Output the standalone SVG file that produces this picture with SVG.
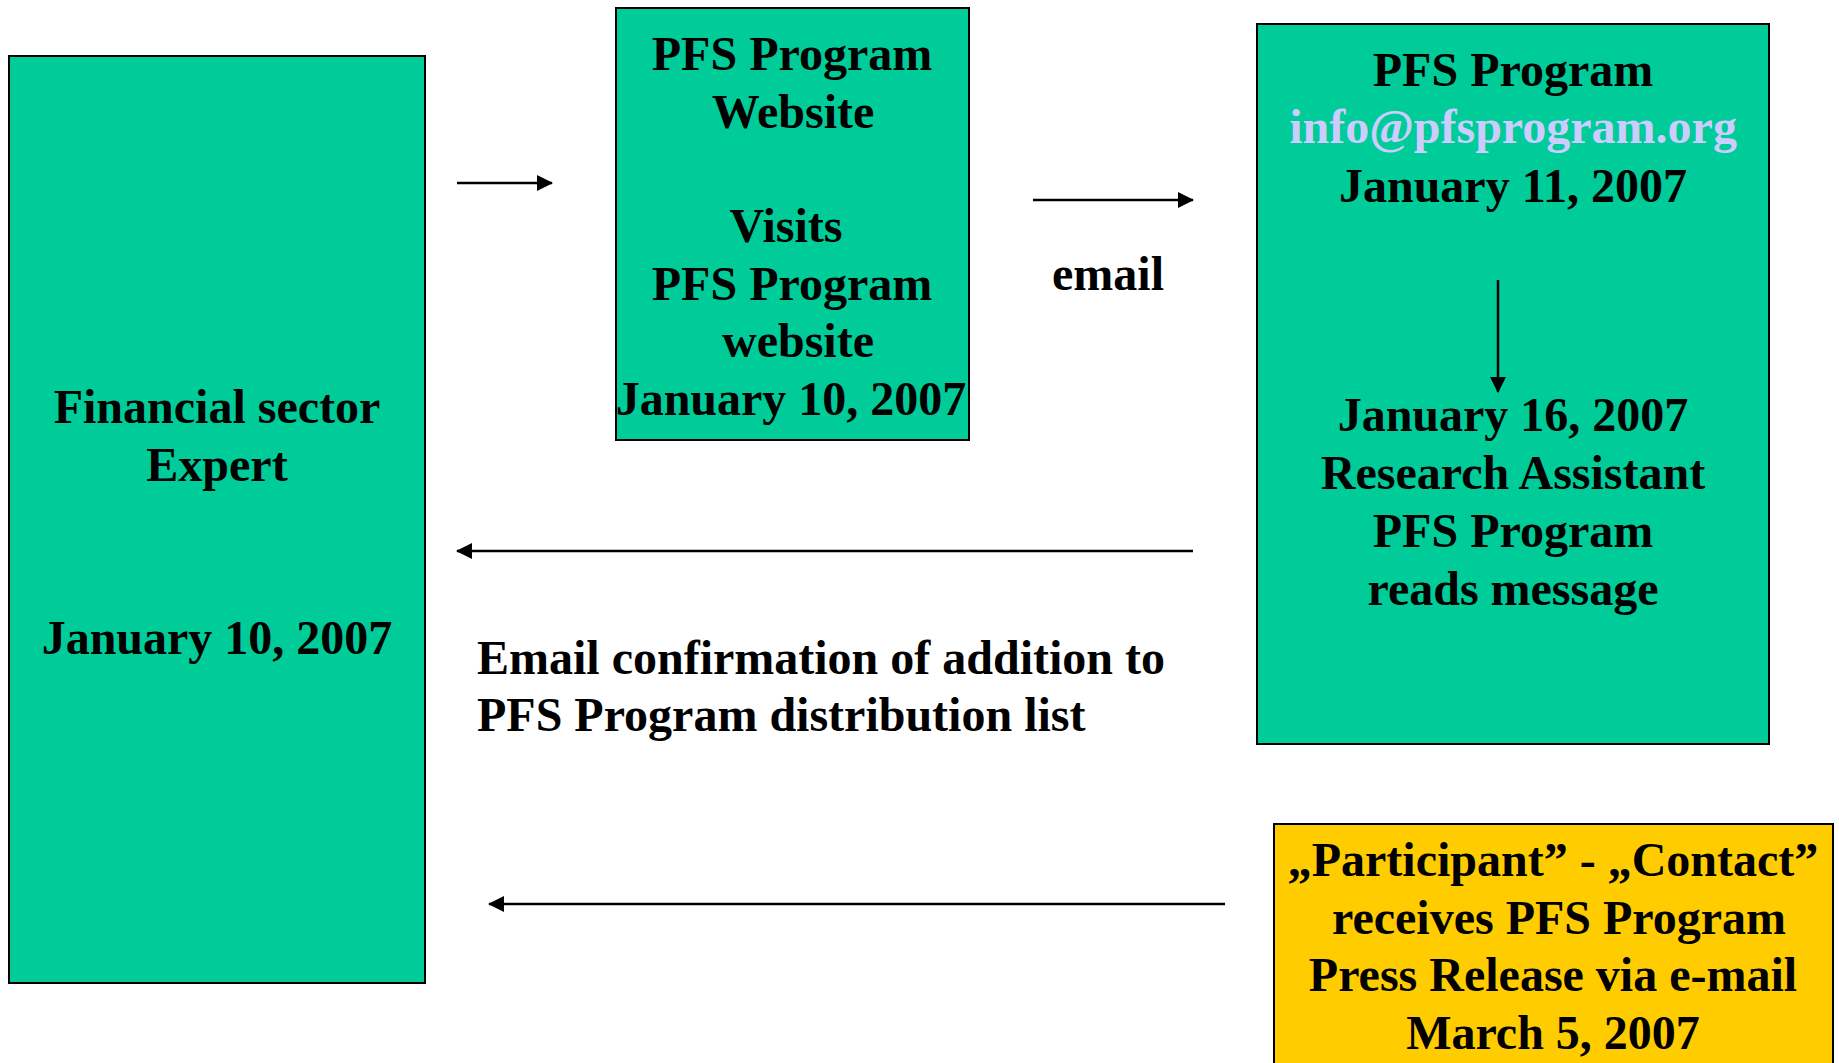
<svg xmlns="http://www.w3.org/2000/svg" width="1839" height="1063" viewBox="0 0 1839 1063">
  <style>
    .box { stroke: #000; stroke-width: 2; }
    .green { fill: #00CC99; }
    .yellow { fill: #FFCC00; }
    text { font-family: "Liberation Serif", "Times New Roman", serif; font-weight: bold; font-size: 48px; fill: #000; }
    .c { text-anchor: middle; }
    .mail { fill: #CCCCFF; }
    .link { stroke: #000; stroke-width: 2.5; fill: none; marker-end: url(#head); }
  </style>
  <defs>
    <marker id="head" markerUnits="userSpaceOnUse" markerWidth="16" markerHeight="18" refX="15" refY="8" orient="auto">
      <path d="M0,0 L16,8 L0,16 Z" fill="#000"/>
    </marker>
  </defs>
  <rect width="1839" height="1063" fill="#fff"/>

  <g id="expert">
    <rect class="box green" x="9" y="56" width="416" height="927"/>
    <text class="c" x="217" y="423">Financial sector</text>
    <text class="c" x="217" y="481">Expert</text>
    <text class="c" x="217" y="654">January 10, 2007</text>
  </g>

  <g id="website">
    <rect class="box green" x="616" y="8" width="353" height="432"/>
    <text class="c" x="792" y="70">PFS Program</text>
    <text class="c" x="793" y="128">Website</text>
    <text class="c" x="786" y="242">Visits</text>
    <text class="c" x="792" y="300">PFS Program</text>
    <text class="c" x="798" y="357">website</text>
    <text class="c" x="791" y="415">January 10, 2007</text>
  </g>

  <g id="inbox">
    <rect class="box green" x="1257" y="24" width="512" height="720"/>
    <text class="c" x="1513" y="86">PFS Program</text>
    <text class="c mail" x="1513" y="143">info@pfsprogram.org</text>
    <text class="c" x="1513" y="202">January 11, 2007</text>
    <text class="c" x="1513" y="431">January 16, 2007</text>
    <text class="c" x="1513" y="489">Research Assistant</text>
    <text class="c" x="1513" y="547">PFS Program</text>
    <text class="c" x="1513" y="605">reads message</text>
  </g>

  <g id="press-release">
    <rect class="box yellow" x="1274" y="824" width="559" height="260"/>
    <text class="c" x="1553" y="876">„Participant” - „Contact”</text>
    <text class="c" x="1559" y="934">receives PFS Program</text>
    <text class="c" x="1553" y="991">Press Release via e-mail</text>
    <text class="c" x="1553" y="1049">March 5, 2007</text>
  </g>

  <g id="connectors">
    <line class="link" x1="457" y1="183" x2="552" y2="183"/>
    <line class="link" x1="1033" y1="200" x2="1193" y2="200"/>
    <line class="link" x1="1498" y1="280" x2="1498" y2="392"/>
    <line class="link" x1="1193" y1="551" x2="457" y2="551"/>
    <line class="link" x1="1225" y1="904" x2="489" y2="904"/>
    <text class="c" x="1108" y="290">email</text>
    <text x="477" y="674">Email confirmation of addition to</text>
    <text x="477" y="731">PFS Program distribution list</text>
  </g>
</svg>
